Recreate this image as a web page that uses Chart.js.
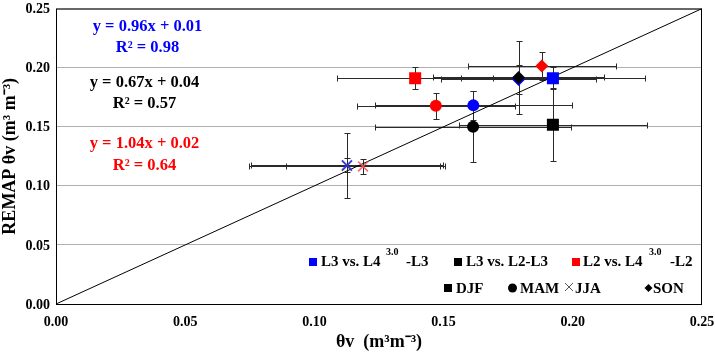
<!DOCTYPE html>
<html><head><meta charset="utf-8">
<script src="https://cdn.jsdelivr.net/npm/chart.js@4.4.1/dist/chart.umd.min.js"></script>
<style>html,body{margin:0;padding:0;background:#fff;overflow:hidden}</style>
</head><body><canvas id="c" width="715" height="355"></canvas>
<script>
// ---- data ----
const seasons = ['DJF', 'MAM', 'JJA', 'SON'];
const seriesNames = ['L3 vs. L4', 'L3 vs. L2-L3', 'L2 vs. L4'];
const xTickValues = [0, 0.05, 0.10, 0.15, 0.20, 0.25];
const xTickLabels = ['0.00', '0.05', '0.10', '0.15', '0.20', '0.25'];
const yTickValues = [0, 0.05, 0.10, 0.15, 0.20, 0.25];
const yTickLabels = ['0.00', '0.05', '0.10', '0.15', '0.20', '0.25'];

// L3 vs. L4^3.0 -L3 (blue)
const blueX    = [0.1923, 0.1615, 0.1126, 0.1790];
const blueY    = [0.1910, 0.1681, 0.1175, 0.1900];
const blueXErr = [0.0356, 0.0380, 0.0370, 0.0300];
const blueYErr = [0.0092, 0.0120, 0.0060, 0.0120];
// L3 vs. L2-L3 (black)
const blackX    = [0.1923, 0.1614, 0.1126, 0.1790];
const blackY    = [0.1517, 0.1500, 0.1170, 0.1917];
const blackXErr = [0.0364, 0.0380, 0.0380, 0.0330];
const blackYErr = [0.0308, 0.0300, 0.0275, 0.0310];
// L2 vs. L4^3.0 -L2 (red)
const redX    = [0.1390, 0.1470, 0.1188, 0.1880];
const redY    = [0.1910, 0.1678, 0.1164, 0.2014];
const redXErr = [0.0302, 0.0306, 0.0298, 0.0287];
const redYErr = [0.0092, 0.0110, 0.0065, 0.0120];

const oneToOneX = [0, 0.25];
const oneToOneY = [0, 0.25];

const blueEq  = ['y = 0.96x + 0.01', 'R\u00B2 = 0.98'];
const blackEq = ['y = 0.67x + 0.04', 'R\u00B2 = 0.57'];
const redEq   = ['y = 1.04x + 0.02', 'R\u00B2 = 0.64'];

// ---- styles ----
const SERIF = '"Liberation Serif", "Times New Roman", serif';
const series = {
  blue:  {x: blueX,  y: blueY,  xe: blueXErr,  ye: blueYErr,  color: '#0000FF', cross: 'rgba(50,50,255,0.85)'},
  black: {x: blackX, y: blackY, xe: blackXErr, ye: blackYErr, color: '#000000', cross: 'rgba(40,40,40,0.8)'},
  red:   {x: redX,   y: redY,   xe: redXErr,   ye: redYErr,   color: '#FF0000', cross: 'rgba(255,80,80,0.85)'}
};
const seasonStyle = [
  {pointStyle: 'rect', radius: 8.5},
  {pointStyle: 'circle', radius: 6},
  {pointStyle: 'crossRot', radius: 7},
  {pointStyle: 'rectRot', radius: 6.5}
];
// drawing sequence (first = drawn first / underneath)
const drawSeq = [
  ['blue',0],['black',0],['red',0],
  ['red',1],['blue',1],['black',1],
  ['black',2],['blue',2],['red',2],
  ['blue',3],['black',3],['red',3]
];

const N = drawSeq.length + 1;
const datasets = [{
  type: 'line',
  data: oneToOneX.map((v, i) => ({x: v, y: oneToOneY[i]})),
  borderColor: '#000', borderWidth: 1, pointRadius: 0, fill: false,
  order: N + 1
}];
drawSeq.forEach(([key, s], k) => {
  const sr = series[key], st = seasonStyle[s];
  const isCross = st.pointStyle === 'crossRot';
  datasets.push({
    type: 'scatter',
    data: [{x: sr.x[s], y: sr.y[s]}],
    pointStyle: st.pointStyle,
    pointRadius: st.radius,
    pointHoverRadius: st.radius,
    backgroundColor: sr.color,
    borderColor: isCross ? sr.cross : sr.color,
    borderWidth: isCross ? 1.6 : 0,
    order: N - k
  });
});

const errorBars = {
  id: 'errorBars',
  beforeDatasetsDraw(chart) {
    const {ctx, scales: {x, y}} = chart;
    ctx.save();
    ctx.strokeStyle = '#2a2a2a';
    ctx.lineWidth = 1;
    const cap = 3;
    Object.values(series).forEach(sr => {
      for (let i = 0; i < sr.x.length; i++) {
        const px = Math.round(x.getPixelForValue(sr.x[i])) + 0.5;
        const py = Math.round(y.getPixelForValue(sr.y[i])) + 0.5;
        const x0 = Math.round(x.getPixelForValue(sr.x[i] - sr.xe[i])) + 0.5;
        const x1 = Math.round(x.getPixelForValue(sr.x[i] + sr.xe[i])) + 0.5;
        const y0 = Math.round(y.getPixelForValue(sr.y[i] - sr.ye[i])) + 0.5;
        const y1 = Math.round(y.getPixelForValue(sr.y[i] + sr.ye[i])) + 0.5;
        ctx.beginPath();
        ctx.moveTo(x0, py); ctx.lineTo(x1, py);
        ctx.moveTo(x0, py - cap); ctx.lineTo(x0, py + cap);
        ctx.moveTo(x1, py - cap); ctx.lineTo(x1, py + cap);
        ctx.moveTo(px, y0); ctx.lineTo(px, y1);
        ctx.moveTo(px - cap, y0); ctx.lineTo(px + cap, y0);
        ctx.moveTo(px - cap, y1); ctx.lineTo(px + cap, y1);
        ctx.stroke();
      }
    });
    ctx.restore();
  }
};

const decorations = {
  id: 'decorations',
  afterDraw(chart) {
    const {ctx, chartArea: a, scales: {x, y}} = chart;
    ctx.save();
    // frame
    ctx.strokeStyle = '#000'; ctx.lineWidth = 1;
    ctx.strokeRect(a.left + 0.5, a.top + 0.5, a.right - a.left - 1, a.bottom - a.top);
    // tick labels
    ctx.fillStyle = '#000';
    ctx.font = 'bold 14px ' + SERIF;
    ctx.textBaseline = 'middle';
    ctx.textAlign = 'right';
    yTickValues.forEach((v, i) => {
      ctx.fillText(yTickLabels[i], a.left - 6, y.getPixelForValue(v) + 1);
    });
    ctx.textAlign = 'center';
    xTickValues.forEach((v, i) => {
      ctx.fillText(xTickLabels[i], x.getPixelForValue(v), a.bottom + 18);
    });
    // equations
    ctx.textBaseline = 'alphabetic';
    ctx.textAlign = 'center';
    ctx.font = 'bold 16.5px ' + SERIF;
    ctx.fillStyle = '#0000FF';
    ctx.fillText(blueEq[0], 147.5, 31);
    ctx.fillText(blueEq[1], 147.5, 52);
    ctx.fillStyle = '#000';
    ctx.fillText(blackEq[0], 144.5, 87);
    ctx.fillText(blackEq[1], 144.5, 108);
    ctx.fillStyle = '#FF0000';
    ctx.fillText(redEq[0], 144.5, 148);
    ctx.fillText(redEq[1], 144.5, 170);
    // legend row 1
    ctx.textAlign = 'left';
    const big = 'bold 15px ' + SERIF, small = 'bold 10px ' + SERIF;
    ctx.fillStyle = '#0000FF'; ctx.fillRect(309, 258, 8, 8);
    ctx.fillStyle = '#000'; ctx.fillRect(454, 258, 8, 8);
    ctx.fillStyle = '#FF0000'; ctx.fillRect(572, 258, 8, 8);
    ctx.fillStyle = '#000';
    ctx.font = big;
    ctx.fillText(seriesNames[0], 321, 266);
    ctx.fillText('-L3', 406, 266);
    ctx.fillText(seriesNames[1], 466, 266);
    ctx.fillText(seriesNames[2], 583, 266);
    ctx.fillText('-L2', 670, 266);
    ctx.font = small;
    ctx.fillText('3.0', 386, 255);
    ctx.fillText('3.0', 649, 255);
    // legend row 2
    ctx.font = big;
    ctx.fillRect(444, 284, 8, 8);
    ctx.fillText(seasons[0], 456, 293);
    ctx.beginPath(); ctx.arc(512.5, 288, 4.5, 0, Math.PI * 2); ctx.fill();
    ctx.fillText(seasons[1], 520, 293);
    ctx.strokeStyle = '#555'; ctx.lineWidth = 1;
    ctx.beginPath();
    ctx.moveTo(565, 283); ctx.lineTo(573, 291);
    ctx.moveTo(573, 283); ctx.lineTo(565, 291);
    ctx.stroke();
    ctx.fillText(seasons[2], 575, 293);
    ctx.beginPath();
    ctx.moveTo(648.5, 284); ctx.lineTo(652.5, 288); ctx.lineTo(648.5, 292); ctx.lineTo(644.5, 288);
    ctx.closePath(); ctx.fill();
    ctx.fillText(seasons[3], 653, 293);
    ctx.restore();
  }
};

new Chart(document.getElementById('c'), {
  data: {datasets},
  options: {
    responsive: false,
    animation: false,
    devicePixelRatio: 1,
    layout: {padding: {left: 0, right: 13, top: 4, bottom: 0}},
    plugins: {legend: {display: false}, tooltip: {enabled: false}},
    scales: {
      x: {
        type: 'linear', min: 0, max: 0.25,
        afterBuildTicks: s => { s.ticks = xTickValues.map(v => ({value: v})); },
        afterFit: s => { s.height = 51; },
        grid: {display: false, drawTicks: false},
        border: {display: false},
        ticks: {display: false},
        title: {display: true, text: '\u03B8v  (m\u00B3m\u207B\u00B3)', color: '#000',
                font: {family: SERIF, size: 18, weight: 'bold'}, padding: {top: 0, bottom: 2}}
      },
      y: {
        type: 'linear', min: 0, max: 0.25,
        afterBuildTicks: s => { s.ticks = yTickValues.map(v => ({value: v})); },
        afterFit: s => { s.width = 56; },
        grid: {display: true, color: '#b0b0b0', lineWidth: 1, drawTicks: false},
        border: {display: false},
        ticks: {display: false},
        title: {display: true, text: 'REMAP \u03B8v (m\u00B3 m\u207B\u00B3)', color: '#000',
                font: {family: SERIF, size: 18, weight: 'bold'}, padding: {top: 0, bottom: 0}}
      }
    }
  },
  plugins: [errorBars, decorations]
});
</script>
</body></html>
